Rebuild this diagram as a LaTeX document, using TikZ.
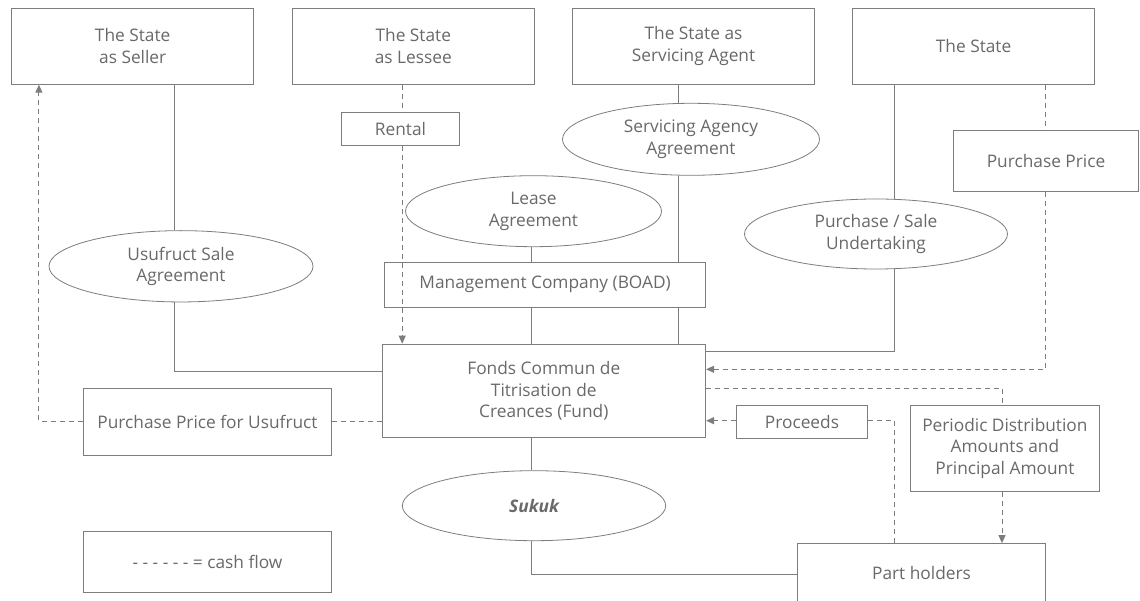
\documentclass[tikz,border=0pt]{standalone}
\usepackage{fontspec}
\setmainfont{Open Sans}
\usetikzlibrary{shapes.geometric,arrows.meta}
\definecolor{ln}{RGB}{125,125,125}
\definecolor{tx}{RGB}{105,105,105}
\tikzset{
  box/.style={draw=ln,line width=1pt,fill=white,text=tx,align=center,inner sep=0pt,font=\fontsize{17.3}{21.5}\selectfont},
  oval/.style={ellipse,draw=ln,line width=0.8pt,fill=white,text=tx,align=center,inner sep=0pt,font=\fontsize{17.3}{21.5}\selectfont},
  solidline/.style={draw=ln,line width=1pt},
  cash/.style={draw=ln,line width=1pt,dash pattern=on 5pt off 4pt},
  tip/.style={-{Triangle[length=8pt,width=7pt]}}
}
\begin{document}
\begin{tikzpicture}[x=1pt,y=-1pt]
\useasboundingbox (0,0) rectangle (1140,601);
\clip (0,0) rectangle (1140,601);
% x positions of vertical connectors
\coordinate (xs) at (174.5,0);
\coordinate (xd) at (38.9,0);
\coordinate (xl) at (402.2,0);
\coordinate (xlease) at (531,0);
\coordinate (xserv) at (678.4,0);
\coordinate (xst) at (894.4,0);
\coordinate (xpp) at (1045.6,0);
\coordinate (xper) at (1002,0);
% y positions of horizontal connectors
\coordinate (ya) at (0,371.7);
\coordinate (yb) at (0,351.7);
\coordinate (yc) at (0,369.3);
\coordinate (yd) at (0,388.3);
\coordinate (ye) at (0,420.7);
\coordinate (yf) at (0,421);
\coordinate (yg) at (0,574);

% boxes
\node[box,minimum width=242pt,minimum height=76pt] (seller) at (132.7,46.2) {The State\\as Seller};
\node[box,minimum width=242pt,minimum height=76pt] (lessee) at (413.3,46.2) {The State\\as Lessee};
\node[box,minimum width=242pt,minimum height=76pt] (serv) at (693.5,46.2) {The State as\\Servicing Agent};
\node[box,minimum width=242pt,minimum height=76pt] (state) at (973.6,46.2) {The State};
\node[box,minimum width=118pt,minimum height=33.4pt] (rental) at (400.5,129) {Rental};
\node[box,minimum width=184.8pt,minimum height=60.6pt] (pp) at (1046,161) {Purchase Price};
\node[box,minimum width=323.6pt,minimum height=93.7pt] (fund) at (543.8,391) {Fonds Commun de\\Titrisation de\\Creances (Fund)};
\node[box,minimum width=248.3pt,minimum height=67pt] (ppu) at (207.5,421.5) {Purchase Price for Usufruct};
\node[box,minimum width=248.3pt,minimum height=60.6pt] (legend) at (207.5,562) {- - - - - - = cash flow};
\node[box,minimum width=131pt,minimum height=32.3pt] (proceeds) at (802,421.9) {Proceeds};
\node[box,minimum width=189.8pt,minimum height=86pt] (periodic) at (1004.9,448.3) {Periodic Distribution\\Amounts and\\Principal Amount};
\node[box,minimum width=248.3pt,minimum height=59.3pt] (part) at (921.5,573.3) {Part holders};

% ellipses
\node[oval,minimum width=264pt,minimum height=71.3pt] (usu) at (181,266.3) {Usufruct Sale\\Agreement};
\node[oval,minimum width=257pt,minimum height=72pt] (servag) at (691,139.3) {Servicing Agency\\Agreement};
\node[oval,minimum width=256pt,minimum height=71pt] (lease) at (533.5,211.2) {Lease\\Agreement};
\node[oval,minimum width=263pt,minimum height=70pt] (ps) at (876,234) {Purchase / Sale\\Undertaking};
\node[oval,minimum width=263.4pt,minimum height=70pt,font=\fontsize{17.3}{21.5}\selectfont\bfseries\itshape] (sukuk) at (534,505.7) {Sukuk};

% solid connectors (agreements)
\draw[solidline] (seller.south -| xs) -- (usu.north -| xs);
\draw[solidline] (usu.south -| xs) |- (fund.west |- ya);
\draw[solidline] (serv.south -| xserv) -- (servag.north -| xserv);
\draw[solidline] (servag.south -| xserv) -- (fund.north -| xserv);
\draw[solidline] (lease.south -| xlease) -- (fund.north -| xlease);
\draw[solidline] (state.south -| xst) -- (ps.north -| xst);
\draw[solidline] (ps.south -| xst) |- (fund.east |- yb);
\draw[solidline] (fund.south -| xlease) -- (sukuk.north -| xlease);
\draw[solidline] (sukuk.south -| xlease) |- (part.west |- yg);

% management box drawn over the vertical lines
\node[box,minimum width=321pt,minimum height=45pt] (mgmt) at (545.1,284.8) {Management Company (BOAD)};

% cash flows
\draw[cash] (lessee.south -| xl) -- (rental.north -| xl);
\draw[cash,tip] (rental.south -| xl) -- (fund.north -| xl);
\draw[cash] (state.south -| xpp) -- (pp.north -| xpp);
\draw[cash,tip] (pp.south -| xpp) |- (fund.east |- yc);
\draw[cash] (fund.east |- yd) -| (periodic.north -| xper);
\draw[cash,tip] (periodic.south -| xper) -- (part.north -| xper);
\draw[cash] (part.north -| xst) |- (proceeds.east |- ye);
\draw[cash,tip] (proceeds.west |- ye) -- (fund.east |- ye);
\draw[cash] (fund.west |- yf) -- (ppu.east |- yf);
\draw[cash,tip] (ppu.west |- yf) -| (seller.south -| xd);
\end{tikzpicture}
\end{document}
